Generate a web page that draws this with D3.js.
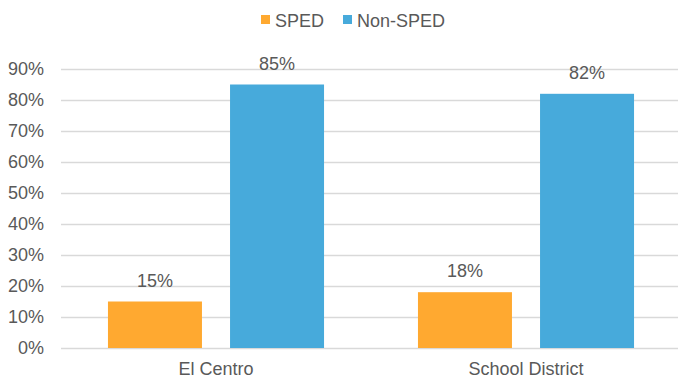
<!DOCTYPE html>
<html>
<head>
<meta charset="utf-8">
<script src="https://cdn.jsdelivr.net/npm/d3@7"></script>
<style>
  html, body { margin: 0; padding: 0; background: #fff; }
  svg { display: block; font-family: "Liberation Sans", Arial, sans-serif; }
</style>
</head>
<body>
<svg id="chart" width="678" height="378"></svg>
<script>
// Share of students, SPED vs Non-SPED
const categories = ["El Centro", "School District"];
const seriesNames = ["SPED", "Non-SPED"];
const spedValues = [15, 18];
const nonSpedValues = [85, 82];
const tickValues = [0, 10, 20, 30, 40, 50, 60, 70, 80, 90];
const colors = ["#FFA930", "#47AADB"];

const svg = d3.select("#chart");
const W = 678, H = 378;
const margin = { left: 61, right: -3, top: 69, bottom: 30 };
const plotRight = W - margin.right;
const plotBottom = H - margin.bottom;
const textColor = "#595959";
const fontSize = 18;

const y = d3.scaleLinear().domain([0, 90]).range([plotBottom, margin.top]);
const x0 = d3.scaleBand().domain(categories).range([margin.left, plotRight]).paddingInner(0).paddingOuter(0);
// group occupies ~70% of each band; bars separated by a narrow gap
const groupWidth = x0.bandwidth() * 0.697;
const x1 = d3.scaleBand().domain(seriesNames).range([0, groupWidth]).paddingInner(0.23).paddingOuter(0);

// gridlines
svg.append("g")
  .selectAll("line")
  .data(tickValues)
  .join("line")
  .attr("x1", margin.left)
  .attr("x2", W)
  .attr("y1", d => Math.round(y(d)) + 0.5)
  .attr("y2", d => Math.round(y(d)) + 0.5)
  .attr("stroke", "#D9D9D9")
  .attr("stroke-width", 1.4);

// y axis labels
const yAxis = d3.axisLeft(y).tickValues(tickValues).tickFormat(d => d + "%").tickSize(0).tickPadding(0);
const yg = svg.append("g").attr("transform", `translate(44,0)`).call(yAxis);
yg.select(".domain").remove();
yg.selectAll("text")
  .attr("fill", textColor)
  .style("font-size", fontSize + "px")
  .style("font-family", "'Liberation Sans', Arial, sans-serif");

// x axis labels
const xAxis = d3.axisBottom(x0).tickSize(0).tickPadding(0);
const xg = svg.append("g").attr("transform", `translate(0,${plotBottom})`).call(xAxis);
xg.select(".domain").remove();
xg.selectAll("text")
  .attr("fill", textColor)
  .attr("dy", null)
  .attr("y", 27)
  .style("font-size", fontSize + "px")
  .style("font-family", "'Liberation Sans', Arial, sans-serif");

// bars
const rows = categories.map((c, i) => ({
  category: c,
  values: [
    { series: seriesNames[0], value: spedValues[i] },
    { series: seriesNames[1], value: nonSpedValues[i] }
  ]
}));

const groups = svg.append("g")
  .selectAll("g")
  .data(rows)
  .join("g")
  .attr("transform", d => `translate(${x0(d.category) + (x0.bandwidth() - groupWidth) / 2},0)`);

groups.selectAll("rect")
  .data(d => d.values)
  .join("rect")
  .attr("x", d => x1(d.series))
  .attr("width", x1.bandwidth())
  .attr("y", d => y(d.value))
  .attr("height", d => y(0) - y(d.value))
  .attr("fill", (d, i) => colors[i]);

groups.selectAll("text")
  .data(d => d.values)
  .join("text")
  .attr("x", d => x1(d.series) + x1.bandwidth() / 2)
  .attr("y", d => y(d.value) - 15)
  .attr("text-anchor", "middle")
  .attr("fill", textColor)
  .style("font-size", fontSize + "px")
  .text(d => d.value + "%");

// legend
const legend = svg.append("g");
const legendItems = [
  { name: seriesNames[0], x: 261 },
  { name: seriesNames[1], x: 343 }
];
legendItems.forEach((item, i) => {
  legend.append("rect")
    .attr("x", item.x)
    .attr("y", 15)
    .attr("width", 9)
    .attr("height", 9)
    .attr("fill", colors[i]);
  legend.append("text")
    .attr("x", item.x + 14)
    .attr("y", 27)
    .attr("fill", textColor)
    .style("font-size", fontSize + "px")
    .text(item.name);
});
</script>
</body>
</html>
